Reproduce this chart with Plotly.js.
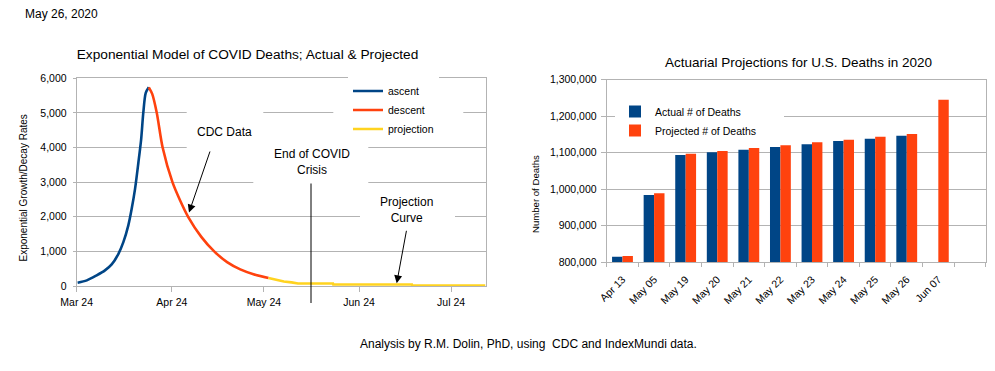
<!DOCTYPE html>
<html><head><meta charset="utf-8">
<script src="https://cdn.plot.ly/plotly-3.0.1.min.js"></script>
<style>html,body{margin:0;padding:0;background:#fff;}#chart{width:995px;height:371px;}</style>
</head><body><div id="chart"></div>
<script>
// ---------- Left chart data (x = days since Mar 24, 2020) ----------
const ascentDays = [0.3, 3.3, 6.5, 9.2, 11.4, 13.6, 15.2, 16.8, 17.9, 19.0, 20.1, 21.0, 21.7, 22.5, 23.5];
const ascentVals = [96, 163, 307, 450, 623, 930, 1266, 1745, 2224, 2800, 3567, 4238, 5005, 5580, 5740];
const descentDays = [23.5, 24.6, 26.1, 28.0, 31.2, 33.7, 36.3, 40.6, 44.8, 49.0, 53.3, 57.6, 62.5];
const descentVals = [5740, 5550, 5000, 4000, 3000, 2470, 2000, 1420, 1000, 690, 480, 340, 232];
const projDays = [62.5, 65.0, 67.5, 70.0, 72.0, 72.1, 83.5, 83.6, 109.2, 109.3, 133.2];
const projVals = [232, 170, 130, 105, 90, 72, 72, 45, 45, 10, 10];
const leftTickDays = [0, 31, 61, 92, 122];
const leftTickText = ['Mar 24', 'Apr 24', 'May 24', 'Jun 24', 'Jul 24'];

// ---------- Right chart data ----------
const categories = ['Apr 13', 'May 05', 'May 19', 'May 20', 'May 21', 'May 22', 'May 23', 'May 24', 'May 25', 'May 26', 'Jun 07'];
const actualDeaths = [815300, 984400, 1094000, 1101400, 1108500, 1115900, 1123300, 1132300, 1138600, 1146800, null];
const projectedDeaths = [817300, 989000, 1097500, 1105000, 1113000, 1120500, 1128800, 1136000, 1144100, 1151500, 1245500];

// ---------- helpers ----------
const W = 995, H = 371;
const px = x => x / W, py = y => 1 - y / H;
const FONT = 'Liberation Sans, Arial, sans-serif';
const GRID = '#b3b3b3';
const BLUE = '#004586', ORANGE = '#ff420e', YELLOW = '#ffd320';
const catIdx = categories.map((c, i) => i);

const traces = [
  {x: ascentDays, y: ascentVals, type: 'scatter', mode: 'lines', name: 'ascent',
   line: {color: BLUE, width: 2.6, shape: 'spline', smoothing: 0.8}, xaxis: 'x', yaxis: 'y', legend: 'legend'},
  {x: descentDays, y: descentVals, type: 'scatter', mode: 'lines', name: 'descent',
   line: {color: ORANGE, width: 2.6, shape: 'spline', smoothing: 0.8}, xaxis: 'x', yaxis: 'y', legend: 'legend'},
  {x: projDays, y: projVals, type: 'scatter', mode: 'lines', name: 'projection',
   line: {color: YELLOW, width: 2.6}, xaxis: 'x', yaxis: 'y', legend: 'legend'},
  {x: catIdx, y: actualDeaths, type: 'bar', name: 'Actual # of Deaths',
   marker: {color: BLUE}, xaxis: 'x2', yaxis: 'y2', legend: 'legend2'},
  {x: catIdx, y: projectedDeaths, type: 'bar', name: 'Projected # of Deaths',
   marker: {color: ORANGE}, xaxis: 'x2', yaxis: 'y2', legend: 'legend2'}
];

const axBase = {showline: true, linecolor: GRID, linewidth: 1, mirror: true, zeroline: false,
  tickfont: {family: FONT, size: 10.5, color: '#000'}, tickcolor: GRID, fixedrange: true};

const layout = {
  width: W, height: H,
  margin: {l: 0, r: 0, t: 0, b: 0, pad: 0},
  paper_bgcolor: '#fff', plot_bgcolor: '#fff',
  font: {family: FONT, color: '#000'},
  title: {text: 'Exponential Model of COVID Deaths; Actual &amp; Projected', x: px(247.5), xref: 'paper', xanchor: 'center',
          y: py(54), yref: 'paper', yanchor: 'middle', font: {family: FONT, size: 13.7, color: '#000'}},
  barmode: 'group', bargap: 0.34, bargroupgap: 0,
  xaxis: Object.assign({}, axBase, {domain: [px(76.7), px(485.5)], range: [0, 133.2], anchor: 'y',
    tickmode: 'array', tickvals: leftTickDays, ticktext: leftTickText, ticks: 'outside', ticklen: 5,
    showgrid: false, ticklabelstandoff: 1}),
  yaxis: Object.assign({}, axBase, {domain: [py(286), py(78.3)], range: [0, 6000], anchor: 'x',
    dtick: 1000, tickformat: ',d', showgrid: true, gridcolor: GRID, ticks: 'outside', ticklen: 3,
    ticklabelstandoff: 4}),
  xaxis2: Object.assign({}, axBase, {domain: [px(606.7), px(985.7)], range: [-0.5, 11.5], anchor: 'y2',
    tickmode: 'array', tickvals: catIdx, ticktext: categories, tickangle: -45, ticks: '',
    showgrid: false, ticklabelstandoff: 6,
    minor: {tickmode: 'linear', tick0: -0.5, dtick: 1, ticks: 'outside', ticklen: 4, tickcolor: GRID, showgrid: false}}),
  yaxis2: Object.assign({}, axBase, {domain: [py(262.3), py(79.8)], range: [800000, 1300000], anchor: 'x2',
    dtick: 100000, tickformat: ',d', showgrid: true, gridcolor: GRID, ticks: 'outside', ticklen: 5,
    ticklabelstandoff: 2}),
  legend: {x: px(348), xanchor: 'left', y: py(110), yanchor: 'middle', bgcolor: '#fff', borderwidth: 0,
    font: {family: FONT, size: 10.5, color: '#000'}, tracegroupgap: 0},
  legend2: {x: px(615), xanchor: 'left', y: py(121), yanchor: 'middle', bgcolor: '#fff', borderwidth: 0,
    font: {family: FONT, size: 10.5, color: '#000'}, tracegroupgap: 0},
  shapes: [
    // white text boxes of the drawn callouts (cover gridlines)
    {type: 'rect', xref: 'paper', yref: 'paper', x0: px(186.7), x1: px(263.3), y0: py(152), y1: py(106), fillcolor: '#fff', line: {width: 0}},
    {type: 'rect', xref: 'paper', yref: 'paper', x0: px(253.3), x1: px(368.3), y0: py(190), y1: py(140), fillcolor: '#fff', line: {width: 0}},
    {type: 'rect', xref: 'paper', yref: 'paper', x0: px(360), x1: px(455), y0: py(230), y1: py(193), fillcolor: '#fff', line: {width: 0}},
    {type: 'rect', xref: 'paper', yref: 'paper', x0: px(333.3), x1: px(463.3), y0: py(135), y1: py(84), fillcolor: '#fff', line: {width: 0}},
    {type: 'rect', xref: 'paper', yref: 'paper', x0: px(619), x1: px(784), y0: py(136), y1: py(104), fillcolor: '#fff', line: {width: 0}},
    // End of COVID crisis marker line
    {type: 'line', xref: 'paper', yref: 'paper', x0: px(311), x1: px(311), y0: py(183.5), y1: py(303), line: {color: '#000', width: 1}}
  ],
  annotations: [
    {text: 'May 26, 2020', xref: 'paper', yref: 'paper', x: px(22.5), y: py(13.5), xanchor: 'left', yanchor: 'middle',
     showarrow: false, font: {family: FONT, size: 12, color: '#000'}},
    {text: 'Actuarial Projections for U.S. Deaths in 2020', xref: 'paper', yref: 'paper', x: px(798), y: py(62.7),
     xanchor: 'center', yanchor: 'middle', showarrow: false, font: {family: FONT, size: 13.5, color: '#000'}},
    {text: 'Exponential Growth/Decay Rates', xref: 'paper', yref: 'paper', x: px(23), y: py(188.5), textangle: -90,
     xanchor: 'center', yanchor: 'middle', showarrow: false, font: {family: FONT, size: 10, color: '#000'}},
    {text: 'Number of Deaths', xref: 'paper', yref: 'paper', x: px(535), y: py(194), textangle: -90,
     xanchor: 'center', yanchor: 'middle', showarrow: false, font: {family: FONT, size: 9.6, color: '#000'}},
    {text: 'Analysis by R.M. Dolin, PhD, using\u00a0 CDC and IndexMundi data.', xref: 'paper', yref: 'paper',
     x: px(528), y: py(344), xanchor: 'center', yanchor: 'middle', showarrow: false, font: {family: FONT, size: 12, color: '#000'}},
    {text: 'CDC Data', xref: 'paper', yref: 'paper', x: px(224.3), y: py(131.7), xanchor: 'center', yanchor: 'middle',
     showarrow: false, font: {family: FONT, size: 12, color: '#000'}},
    {text: 'End of COVID<br>Crisis', xref: 'paper', yref: 'paper', x: px(311.5), y: py(162.5), xanchor: 'center', yanchor: 'middle',
     showarrow: false, font: {family: FONT, size: 12, color: '#000'}},
    {text: 'Projection<br>Curve', xref: 'paper', yref: 'paper', x: px(406.7), y: py(210), xanchor: 'center', yanchor: 'middle',
     showarrow: false, font: {family: FONT, size: 12, color: '#000'}},
    // arrows
    {text: '', xref: 'paper', yref: 'paper', x: px(189), y: py(212.5), ax: 21.5, ay: -62.5, showarrow: true,
     arrowhead: 2, arrowsize: 1.6, arrowwidth: 1, arrowcolor: '#000', standoff: 0},
    {text: '', xref: 'paper', yref: 'paper', x: px(396.7), y: py(283.3), ax: 10, ay: -54, showarrow: true,
     arrowhead: 2, arrowsize: 1.6, arrowwidth: 1, arrowcolor: '#000', standoff: 0}
  ]
};

Plotly.newPlot('chart', traces, layout, {displayModeBar: false, staticPlot: true});
</script>
</body></html>
